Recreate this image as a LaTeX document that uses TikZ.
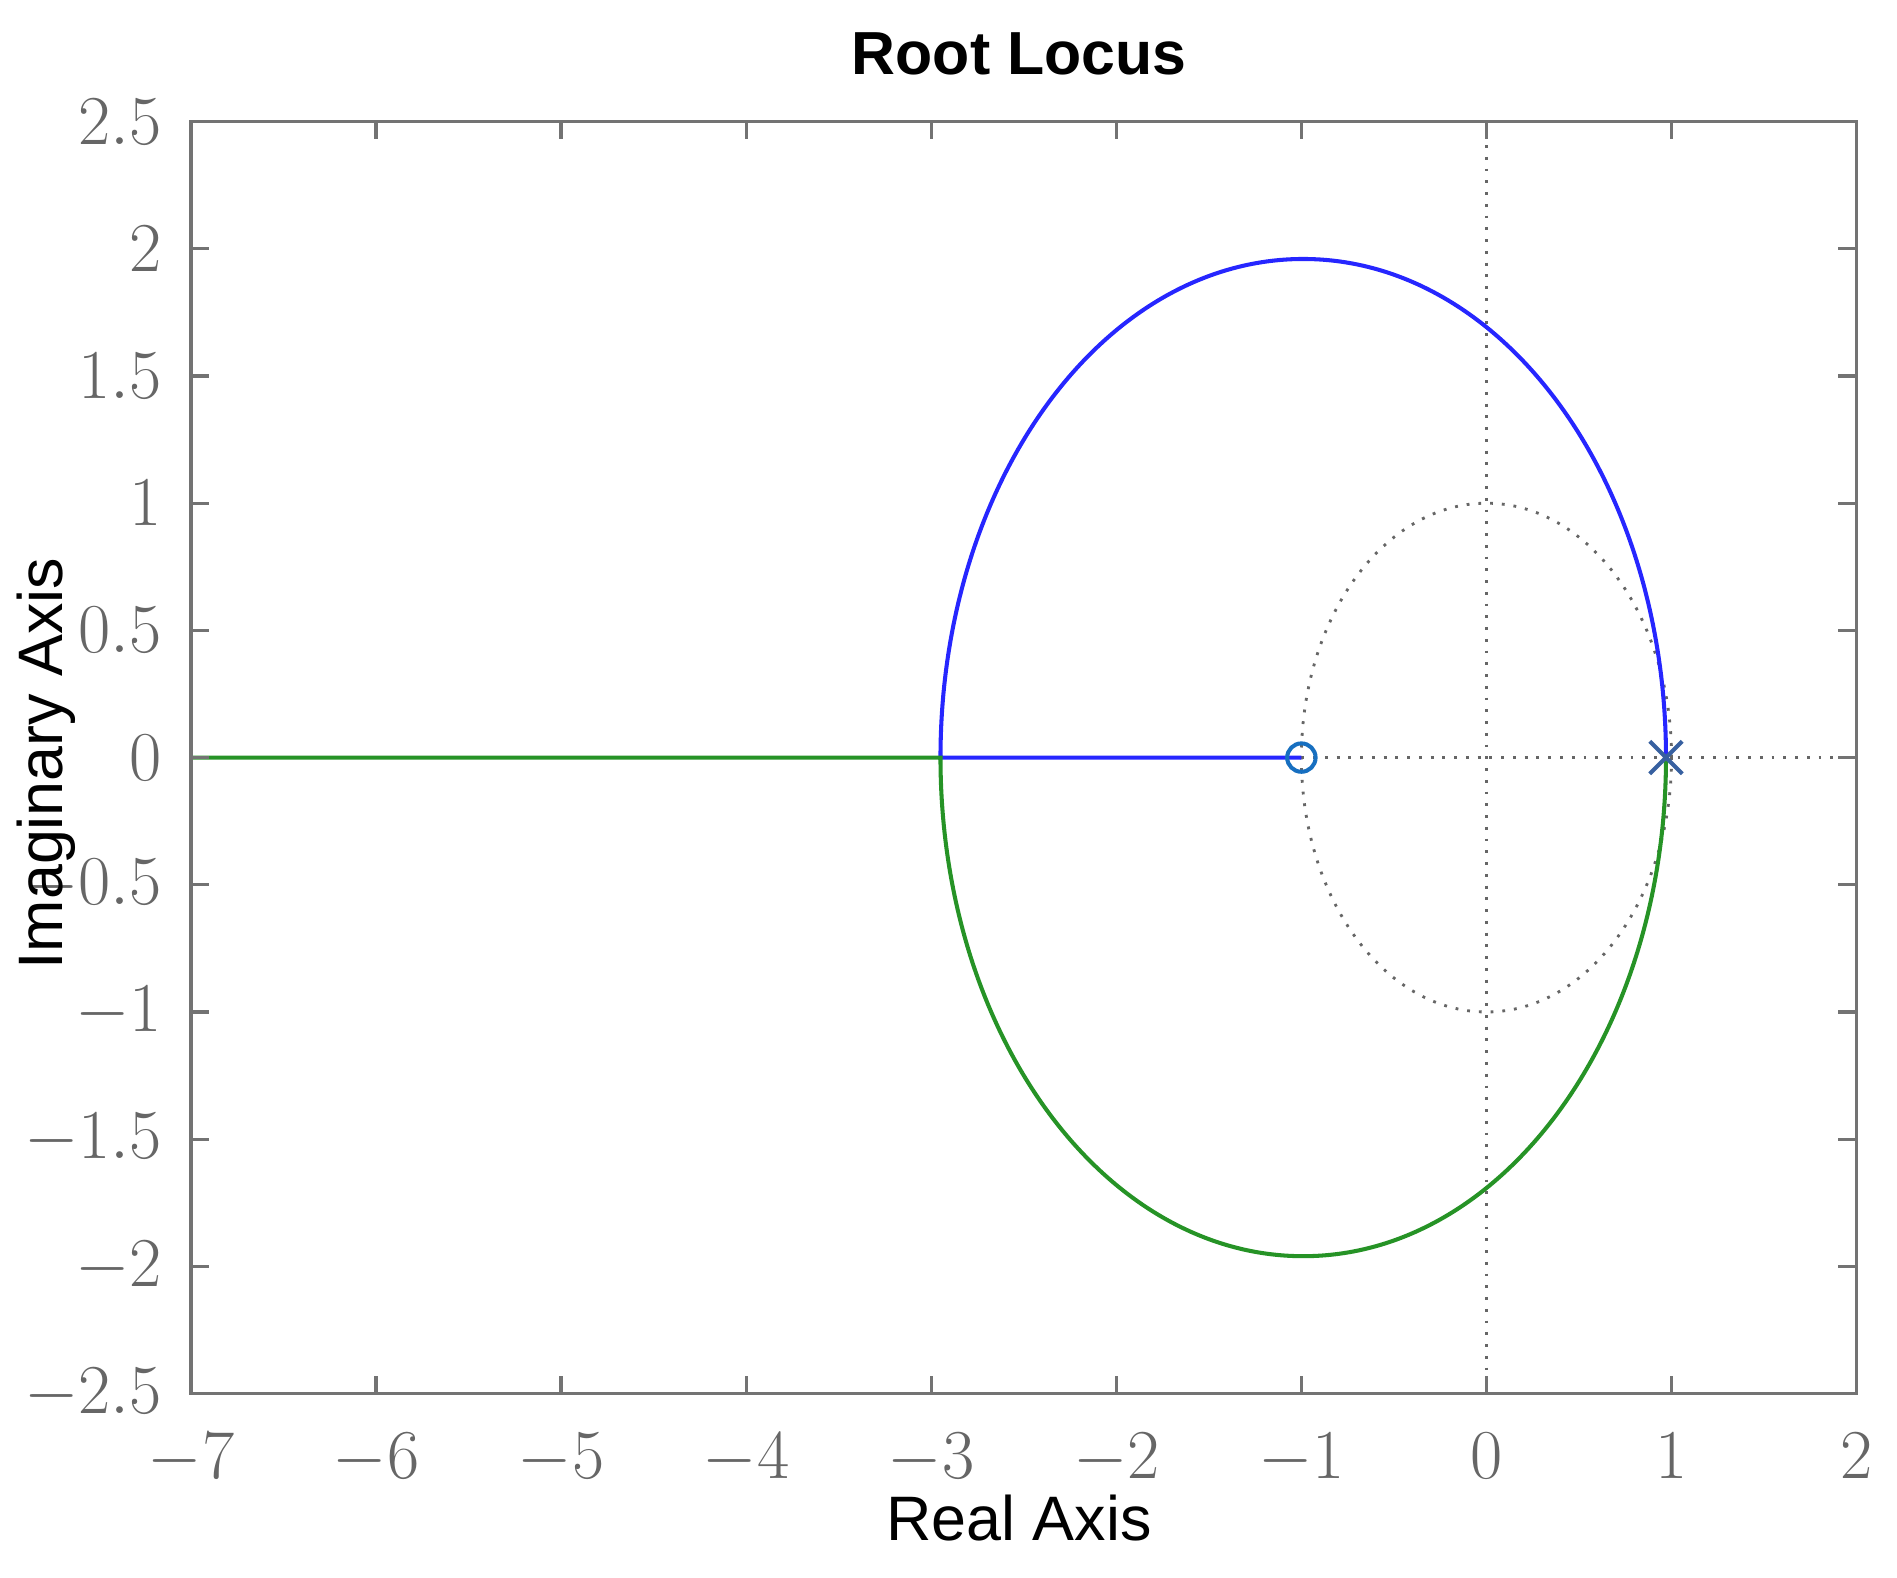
\documentclass[tikz,border=0pt]{standalone}
\usepackage{fontspec}
\usetikzlibrary{shapes.misc}
\newfontfamily\hsans{Liberation Sans}
\begin{document}
\begin{tikzpicture}[x=0.3pt,y=-0.3pt,
  axiscol/.style={draw=black!55,line width=0.8pt},
  ticklab/.style={text=black!60,font=\fontsize{16}{16}\selectfont},
  dots/.style={draw=black!60,line width=0.7pt,dash pattern=on 0.7pt off 2.2pt}]
\useasboundingbox (0,0) rectangle (1560,1297);
\begin{scope}[shift={(1222.4,623)},x=45.66pt,y=62.76pt]
  % dotted guides
  \draw[dots] (0,2.5) -- (0,-2.5);
  \draw[dots] (-1,0) -- (2,0);
  \draw[dots] (0,0) circle[x radius=1,y radius=1];
  % locus
  \draw[blue!85!white,line width=1pt] (0.97,0) arc[start angle=0,end angle=180,x radius=1.96,y radius=1.96] -- (-1,0);
  \draw[green!50!black!85,line width=1pt] (0.97,0) arc[start angle=0,end angle=-180,x radius=1.96,y radius=1.96] -- (-7,0);
  \node[circle,draw=cyan!50!blue,line width=1pt,minimum size=7pt,inner sep=0] (z) at (-1,0) {};
  \node[cross out,draw=cyan!40!blue!80!black,line width=1pt,minimum size=7pt,inner sep=0] (p) at (0.97,0) {};
  % frame
  \draw[axiscol] (-7,-2.5) rectangle (2,2.5);
  \foreach \t in {-6,...,1} {
    \draw[axiscol] (\t,-2.5) -- ++(0,0.07);
    \draw[axiscol] (\t,2.5) -- ++(0,-0.07);}
  \foreach \t in {-7,...,2} \node[ticklab,anchor=north] (xl\t) at (\t,-2.6) {$\t$};
  \foreach \t in {-2,-1.5,...,2} {
    \draw[axiscol] (-7,\t) -- ++(0.1,0);
    \draw[axiscol] (2,\t) -- ++(-0.1,0);}
  \foreach \t in {-2.5,-2,-1.5,-1,-0.5,0,0.5,1,1.5,2,2.5} \node[ticklab,anchor=east] (yl) at (-7.08,\t) {$\t$};
\end{scope}
\node[font=\hsans\bfseries\fontsize{15}{15}\selectfont] (title) at (838,44) {Root Locus};
\node[font=\hsans\fontsize{15.5}{15.5}\selectfont] (xlab) at (838,1248) {Real Axis};
\node[font=\hsans\fontsize{15.5}{15.5}\selectfont,rotate=90] (ylab) at (38,628) {Imaginary Axis};
\end{tikzpicture}
\end{document}
